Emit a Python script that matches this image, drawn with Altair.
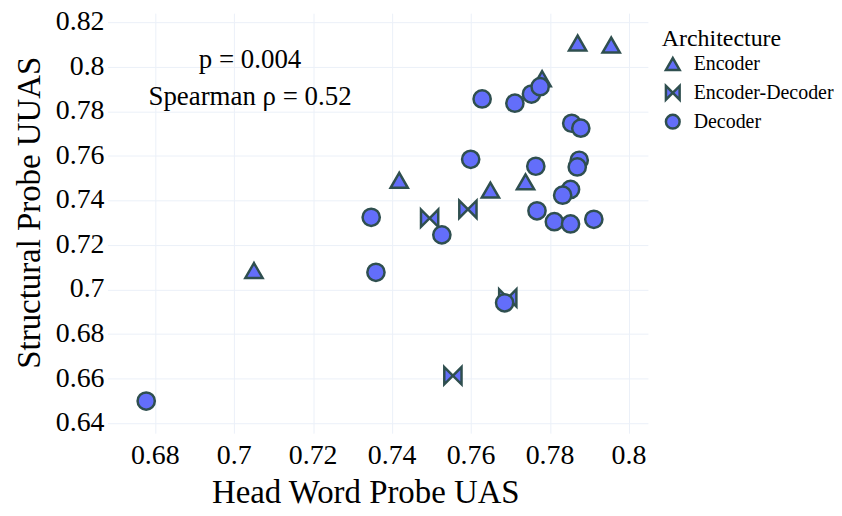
import altair as alt
import pandas as pd

# ---- data ----
enc_x = [0.7870, 0.7955, 0.7780, 0.7418, 0.7649, 0.7738, 0.7050]
enc_y = [0.8106, 0.8097, 0.7946, 0.7490, 0.7446, 0.7483, 0.7085]

encdec_x = [0.7495, 0.7592, 0.7693, 0.7554]
encdec_y = [0.7320, 0.7360, 0.6962, 0.6613]

dec_x = [0.6777, 0.7347, 0.7359, 0.7526, 0.7685, 0.7767, 0.7628, 0.7711,
         0.7753, 0.7775, 0.7855, 0.7878, 0.7599, 0.7764, 0.7874, 0.7869,
         0.7852, 0.7832, 0.7811, 0.7852, 0.7911]
dec_y = [0.6499, 0.7324, 0.7077, 0.7245, 0.6940, 0.7353, 0.7855, 0.7836,
         0.7877, 0.7910, 0.7746, 0.7724, 0.7584, 0.7553, 0.7580, 0.7550,
         0.7449, 0.7423, 0.7304, 0.7294, 0.7315]

architectures = ["Encoder", "Encoder-Decoder", "Decoder"]
legend_title = "Architecture"
x_ticks = [0.68, 0.70, 0.72, 0.74, 0.76, 0.78, 0.80]
y_ticks = [0.64, 0.66, 0.68, 0.70, 0.72, 0.74, 0.76, 0.78, 0.80, 0.82]

ann_lines = ["p = 0.004", "Spearman \u03c1 = 0.52"]
ann_x = [0.7040, 0.7040]
ann_y = [0.7993, 0.7830]

# ---- build tables ----
rows = []
for xs, ys, name in [(enc_x, enc_y, "Encoder"),
                     (encdec_x, encdec_y, "Encoder-Decoder"),
                     (dec_x, dec_y, "Decoder")]:
    for a, b in zip(xs, ys):
        rows.append({"x": a, "y": b, "Architecture": name})
df = pd.DataFrame(rows)
df["order"] = range(len(df))

ann = pd.DataFrame({"x": ann_x, "y": ann_y, "text": ann_lines})
xt = pd.DataFrame({"v": x_ticks})
yt = pd.DataFrame({"v": y_ticks})
legt = pd.DataFrame({"t": [legend_title]})

FONT = "Liberation Serif"
FILL = "#636efa"
STROKE = "#2f4f4f"
GRID = "#ebf0f8"

xscale = alt.Scale(domain=[0.6679, 0.8048], nice=False, zero=False)
yscale = alt.Scale(domain=[0.6355, 0.8240], nice=False, zero=False)

bowtie = "M-1,-1L1,1L1,-1L-1,1Z"
shape_scale = alt.Scale(domain=architectures, range=["triangle-up", bowtie, "circle"])

points = alt.Chart(df).mark_point(
    filled=True, fill=FILL, stroke=STROKE, strokeWidth=2.5, size=300, opacity=1
).encode(
    x=alt.X("x:Q", scale=xscale,
            axis=alt.Axis(values=x_ticks, labels=False, title="Head Word Probe UAS",
                          titleX=259, titleY=70,
                          titleBaseline="alphabetic", titleAlign="center")),
    y=alt.Y("y:Q", scale=yscale,
            axis=alt.Axis(values=y_ticks, labels=False, title="Structural Probe UUAS",
                          titleX=-78, titleY=200, titleAngle=-90,
                          titleAlign="center", titleBaseline="middle")),
    shape=alt.Shape("Architecture:N", scale=shape_scale, legend=None),
    order=alt.Order("order:Q"),
)

# tick labels drawn as text so that they use the serif font
xlabels = alt.Chart(xt).mark_text(
    font=FONT, fontSize=28, color="#000000", align="center", baseline="alphabetic"
).encode(
    x=alt.X("v:Q", scale=xscale),
    y=alt.value(453),
    text=alt.Text("v:Q", format=".2~f"),
)

ylabels = alt.Chart(yt).mark_text(
    font=FONT, fontSize=28, color="#000000", align="right", baseline="middle"
).encode(
    x=alt.value(-3),
    y=alt.Y("v:Q", scale=yscale),
    text=alt.Text("v:Q", format=".2~f"),
)

texts = alt.Chart(ann).mark_text(
    font=FONT, fontSize=27, color="#000000", align="center", baseline="alphabetic"
).encode(
    x=alt.X("x:Q", scale=xscale),
    y=alt.Y("y:Q", scale=yscale),
    text="text:N",
)

# legend, one row per architecture
legend_layers = []
for i, name in enumerate(architectures):
    row = pd.DataFrame({"Architecture": [name]})
    legend_layers.append(
        alt.Chart(row).mark_point(
            filled=True, fill=FILL, stroke=STROKE, strokeWidth=2.5, size=190, opacity=1
        ).encode(
            x=alt.value(568),
            y=alt.value(51 + 29 * i),
            shape=alt.Shape("Architecture:N", scale=shape_scale, legend=None),
        )
    )
    legend_layers.append(
        alt.Chart(row).mark_text(
            font=FONT, fontSize=20, color="#000000", align="left", baseline="middle"
        ).encode(
            x=alt.value(589),
            y=alt.value(51 + 29 * i),
            text="Architecture:N",
        )
    )

leg_title = alt.Chart(legt).mark_text(
    font=FONT, fontSize=24, color="#000000", align="left", baseline="alphabetic"
).encode(
    x=alt.value(557),
    y=alt.value(33),
    text="t:N",
)

chart = alt.layer(points, texts, xlabels, ylabels, *legend_layers, leg_title).properties(
    width=543, height=422,
    autosize=alt.AutoSizeParams(type="none"),
    padding={"left": 100, "top": 4, "right": 187, "bottom": 78},
    background="white",
).configure(
    font=FONT
).configure_view(
    stroke=None
).configure_axis(
    grid=True, gridColor=GRID, gridWidth=1, domain=False, ticks=False, tickSize=0,
    titleFont=FONT, titleFontSize=33, titleColor="#000000", titleFontWeight="normal",
)

chart.save("out.html", embed_options={"renderer": "svg", "actions": False})
